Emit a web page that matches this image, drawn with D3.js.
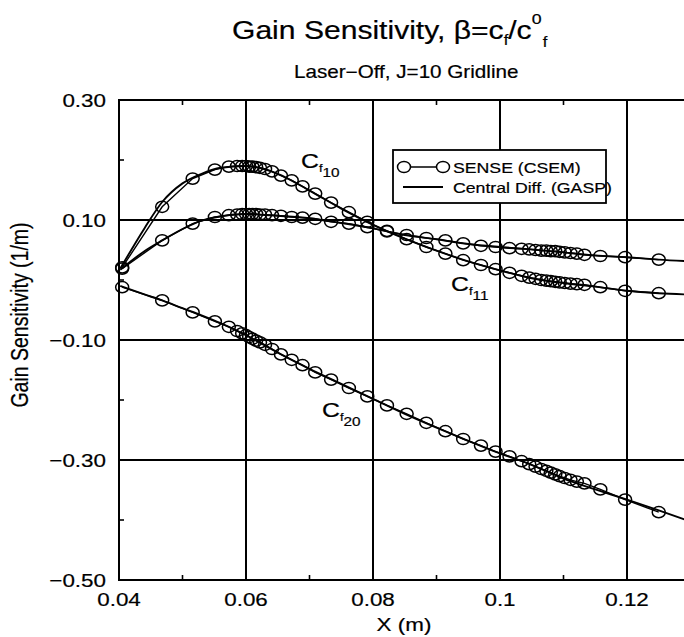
<!DOCTYPE html>
<html>
<head>
<meta charset="utf-8">
<script src="https://cdn.jsdelivr.net/npm/d3@7"></script>
<style>
  body { margin: 0; background: #fff; overflow: hidden; }
  text { font-family: "Liberation Sans", Arial, Helvetica, sans-serif; fill: #000; stroke: #000; stroke-width: 0.2px; }
</style>
</head>
<body>
<script>
// streamwise stations of the SENSE (CSEM) points along the J=10 gridline
const xStations = [0.0405, 0.0468, 0.0516, 0.0551, 0.0573, 0.0586, 0.0594, 0.0600, 0.0605, 0.0610,
  0.0616, 0.0622, 0.0630, 0.0641, 0.0655, 0.0672, 0.0689, 0.0709, 0.0734, 0.0762,
  0.0791, 0.0822, 0.0853, 0.0884, 0.0914, 0.0942, 0.0970, 0.0993, 0.1015, 0.1034,
  0.1046, 0.1056, 0.1065, 0.1073, 0.1080, 0.1087, 0.1094, 0.1102, 0.1111, 0.1121,
  0.1133, 0.1158, 0.1197, 0.1250];

const senseCf10 = [0.021, 0.122, 0.169, 0.184, 0.189, 0.190, 0.190, 0.190, 0.189, 0.189,
  0.188, 0.187, 0.185, 0.181, 0.174, 0.166, 0.156, 0.144, 0.129, 0.113,
  0.097, 0.082, 0.068, 0.055, 0.044, 0.033, 0.025, 0.018, 0.012, 0.007,
  0.004, 0.002, 0.000, -0.001, -0.002, -0.003, -0.004, -0.005, -0.006, -0.007,
  -0.008, -0.012, -0.018, -0.022];

const senseCf11 = [0.019, 0.066, 0.094, 0.105, 0.108, 0.109, 0.110, 0.110, 0.110, 0.110,
  0.110, 0.109, 0.109, 0.108, 0.107, 0.105, 0.104, 0.102, 0.097, 0.094,
  0.088, 0.081, 0.075, 0.070, 0.066, 0.061, 0.057, 0.055, 0.053, 0.052,
  0.051, 0.050, 0.049, 0.049, 0.048, 0.048, 0.047, 0.046, 0.045, 0.044,
  0.042, 0.040, 0.038, 0.034];

const senseCf20 = [-0.012, -0.034, -0.054, -0.069, -0.078, -0.085, -0.089, -0.092, -0.095, -0.098,
  -0.101, -0.104, -0.108, -0.115, -0.124, -0.133, -0.142, -0.154, -0.166, -0.180,
  -0.194, -0.209, -0.223, -0.238, -0.252, -0.265, -0.276, -0.286, -0.294, -0.302,
  -0.307, -0.311, -0.315, -0.318, -0.321, -0.324, -0.327, -0.330, -0.333, -0.336,
  -0.339, -0.349, -0.366, -0.387];

// Central Diff. (GASP) curves
const gaspX = [0.0402, 0.0440, 0.0468, 0.0500, 0.0530, 0.0560, 0.0600, 0.0650, 0.0700, 0.0750,
  0.0800, 0.0850, 0.0900, 0.0950, 0.1000, 0.1050, 0.1100, 0.1150, 0.1200, 0.1250, 0.1320];
const gaspCf10 = [0.019, 0.086, 0.130, 0.161, 0.177, 0.187, 0.190, 0.177, 0.149, 0.119,
  0.092, 0.069, 0.049, 0.031, 0.016, 0.003, -0.005, -0.011, -0.018, -0.022, -0.025];
const gaspCf11 = [0.017, 0.048, 0.066, 0.085, 0.099, 0.106, 0.110, 0.107, 0.103, 0.095,
  0.086, 0.075, 0.068, 0.060, 0.055, 0.051, 0.046, 0.041, 0.038, 0.034, 0.030];
const gaspCf20 = [-0.010, -0.024, -0.034, -0.047, -0.059, -0.072, -0.092, -0.121, -0.148, -0.173,
  -0.198, -0.223, -0.246, -0.268, -0.289, -0.308, -0.331, -0.349, -0.366, -0.384, -0.410];

const xMajor = [0.04, 0.06, 0.08, 0.10, 0.12];
const xMinor = [0.05, 0.07, 0.09, 0.11, 0.13];
const yMajor = [0.30, 0.10, -0.10, -0.30, -0.50];
const yMinor = [0.20, 0.00, -0.20, -0.40];
const xTickLabels = ["0.04", "0.06", "0.08", "0.1", "0.12"];
const yTickLabels = ["0.30", "0.10", "\u22120.10", "\u22120.30", "\u22120.50"];

const width = 684, height = 637;
const stretch = 1.18; // the scanned figure is wider than tall

const svg = d3.select("body").append("svg")
  .attr("width", width)
  .attr("height", height);

const x = d3.scaleLinear().domain([0.04, 0.14]).range([119, 754]);
const y = d3.scaleLinear().domain([-0.5, 0.3]).range([580, 100]);

// text helper, widened horizontally like the scan
function label(g, px, py, str, size, anchor) {
  return g.append("text")
    .attr("transform", `translate(${px},${py}) scale(${stretch},1)`)
    .attr("text-anchor", anchor || "start")
    .style("font-size", size + "px")
    .text(str);
}

//////////// GRID AND FRAME ////////////
const grid = svg.append("g").attr("stroke", "#000").attr("stroke-width", 2);

grid.selectAll(".vg")
  .data(xMajor.slice(1))
  .join("line")
  .attr("x1", d => x(d)).attr("x2", d => x(d))
  .attr("y1", y(0.3)).attr("y2", y(-0.5));

grid.selectAll(".hg")
  .data(yMajor.slice(1, -1))
  .join("line")
  .attr("x1", x(0.04)).attr("x2", x(0.14))
  .attr("y1", d => y(d)).attr("y2", d => y(d));

grid.append("rect")
  .attr("x", x(0.04)).attr("y", y(0.3))
  .attr("width", x(0.14) - x(0.04)).attr("height", y(-0.5) - y(0.3))
  .attr("fill", "none");

// minor ticks pointing into the plot
const tickLen = 5;
const ticks = svg.append("g").attr("stroke", "#000").attr("stroke-width", 1.6);
ticks.selectAll(".tb")
  .data(xMinor)
  .join("line")
  .attr("x1", d => x(d)).attr("x2", d => x(d))
  .attr("y1", y(-0.5)).attr("y2", y(-0.5) - tickLen);
ticks.selectAll(".tt")
  .data(xMinor)
  .join("line")
  .attr("x1", d => x(d)).attr("x2", d => x(d))
  .attr("y1", y(0.3)).attr("y2", y(0.3) + tickLen);
ticks.selectAll(".tl")
  .data(yMinor)
  .join("line")
  .attr("x1", x(0.04)).attr("x2", x(0.04) + tickLen)
  .attr("y1", d => y(d)).attr("y2", d => y(d));

//////////// TICK LABELS ////////////
const labels = svg.append("g");
xMajor.forEach((d, i) => label(labels, x(d), 606, xTickLabels[i], 19, "middle"));
yMajor.forEach((d, i) => label(labels, 106, y(d) + 7, yTickLabels[i], 19, "end"));

//////////// CURVES ////////////
const plot = svg.append("g");

const gaspLine = d3.line()
  .x(d => x(d[0]))
  .y(d => y(d[1]))
  .curve(d3.curveMonotoneX);

const senseLine = d3.line()
  .x(d => x(d[0]))
  .y(d => y(d[1]));

[gaspCf10, gaspCf11, gaspCf20].forEach(vals => {
  plot.append("path")
    .datum(d3.zip(gaspX, vals))
    .attr("d", gaspLine)
    .attr("fill", "none")
    .attr("stroke", "#000")
    .attr("stroke-width", 1.9);
});

[senseCf10, senseCf11, senseCf20].forEach(vals => {
  const pts = d3.zip(xStations, vals);
  plot.append("path")
    .datum(pts)
    .attr("d", senseLine)
    .attr("fill", "none")
    .attr("stroke", "#000")
    .attr("stroke-width", 1.4);
  plot.append("g")
    .selectAll("ellipse")
    .data(pts)
    .join("ellipse")
    .attr("cx", d => x(d[0]))
    .attr("cy", d => y(d[1]))
    .attr("rx", 6.5)
    .attr("ry", 5.6)
    .attr("fill", "none")
    .attr("stroke", "#000")
    .attr("stroke-width", 1.5);
});

//////////// CURVE LABELS ////////////
function curveLabel(px, py, sub) {
  const t = svg.append("text")
    .attr("transform", `translate(${px},${py}) scale(${stretch},1)`)
    .style("font-size", "21px");
  t.append("tspan").text("C");
  t.append("tspan").attr("dy", 4).style("font-size", "11px").text("f");
  t.append("tspan").attr("dy", 5).style("font-size", "13px").text(sub);
}
curveLabel(301, 168, "10");
curveLabel(451, 291, "11");
curveLabel(322, 417, "20");

//////////// LEGEND ////////////
const legend = svg.append("g");
legend.append("rect")
  .attr("x", 393).attr("y", 150)
  .attr("width", 213).attr("height", 53)
  .attr("fill", "#fff")
  .attr("stroke", "#000")
  .attr("stroke-width", 1.8);
legend.append("line")
  .attr("x1", 404).attr("x2", 443)
  .attr("y1", 167).attr("y2", 167)
  .attr("stroke", "#000").attr("stroke-width", 1.4);
legend.selectAll("ellipse")
  .data([404, 443])
  .join("ellipse")
  .attr("cx", d => d).attr("cy", 167)
  .attr("rx", 6.5).attr("ry", 5.6)
  .attr("fill", "#fff")
  .attr("stroke", "#000").attr("stroke-width", 1.5);
legend.append("line")
  .attr("x1", 403).attr("x2", 443)
  .attr("y1", 187).attr("y2", 187)
  .attr("stroke", "#000").attr("stroke-width", 1.9);
label(legend, 453, 173, "SENSE (CSEM)", 15);
label(legend, 453, 193, "Central Diff. (GASP)", 15);

//////////// TITLES ////////////
const title = svg.append("text")
  .attr("transform", `translate(232,39) scale(${stretch},1)`)
  .style("font-size", "25.5px");
title.append("tspan").text("Gain Sensitivity, \u03b2=c");
title.append("tspan").attr("dy", 6).style("font-size", "14px").text("f");
title.append("tspan").attr("dy", -6).text("/c");
title.append("tspan").attr("dy", -15).style("font-size", "15px").text("0");
title.append("tspan").attr("dy", 23).attr("dx", 1).style("font-size", "14px").text("f");

label(svg, 294, 78, "Laser\u2212Off, J=10 Gridline", 17.5);

label(svg, 404, 631, "X (m)", 19, "middle");

svg.append("text")
  .attr("transform", `translate(28,315) rotate(-90) scale(1,${stretch})`)
  .attr("text-anchor", "middle")
  .style("font-size", "19.5px")
  .text("Gain Sensitivity (1/m)");
</script>
</body>
</html>
